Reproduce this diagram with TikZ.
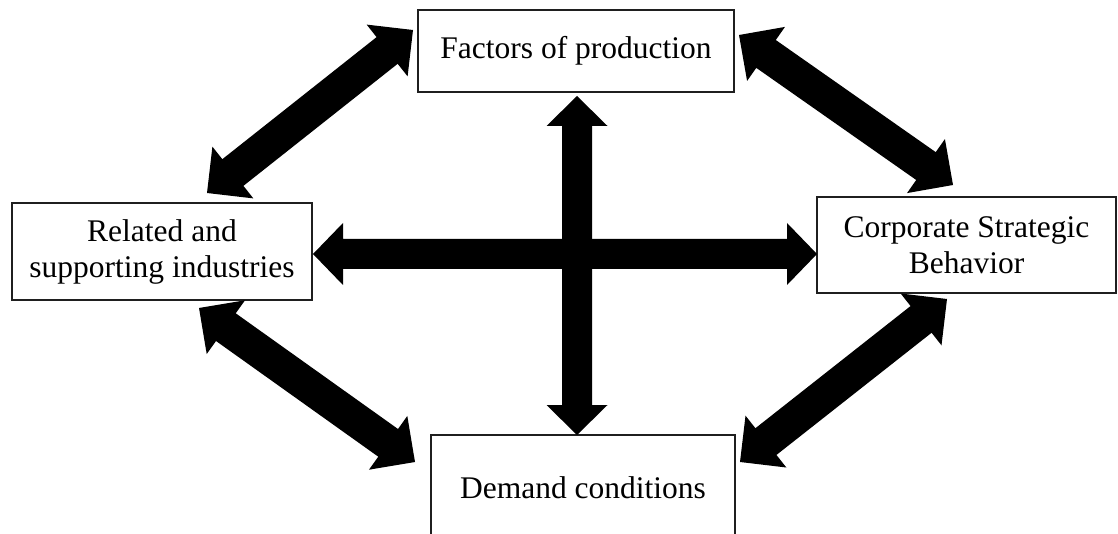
\documentclass[tikz,border=0pt]{standalone}
\usepackage{fontspec}
\setmainfont{Liberation Serif}
\usetikzlibrary{calc}
\tikzset{
  box/.style={draw=black!88, line width=1.8pt, fill=white, align=center,
    font=\fontsize{31.5}{36}\selectfont, inner sep=0pt},
  arrowfill/.style={fill=black},
}
% #1,#2: tip coordinates; #3 head length; #4 half head width; #5 half shaft width
\newcommand\dblarrow[5]{%
  \coordinate (ha) at ($(#1)!#3!(#2)$);
  \coordinate (hb) at ($(#2)!#3!(#1)$);
  \fill[arrowfill] (#1) -- ($(ha)!#4!90:(#2)$) -- ($(ha)!#5!90:(#2)$)
    -- ($(hb)!#5!-90:(#1)$) -- ($(hb)!#4!-90:(#1)$) -- (#2)
    -- ($(hb)!#4!90:(#1)$) -- ($(hb)!#5!90:(#1)$)
    -- ($(ha)!#5!-90:(#2)$) -- ($(ha)!#4!-90:(#2)$) -- cycle;
}
\begin{document}
\begin{tikzpicture}[x=1pt,y=-1pt]
\fill[white] (0,0) rectangle (1118,534);
\useasboundingbox (0,0) rectangle (1118,534);
\clip (0,0) rectangle (1118,534);

\node[box, minimum width=316pt, minimum height=82pt] (fac) at (576,51) {Factors of production};
\node[box, minimum width=300pt, minimum height=97pt] (rel) at (162,251.5) {Related and\\supporting industries};
\node[box, minimum width=299pt, minimum height=96pt] (cor) at (966.5,245) {Corporate Strategic\\Behavior};
\node[box, minimum width=304pt, minimum height=106pt] (dem) at (583,488) {Demand conditions};

% arrow tips next to the boxes
\coordinate (facSW) at (413,30);
\coordinate (relN) at (207,193);
\coordinate (facSE) at (739,35);
\coordinate (corN) at (953,185);
\coordinate (relS) at (199,308);
\coordinate (demW) at (415,462);
\coordinate (corS) at (947,299);
\coordinate (demE) at (740,462);
\coordinate (facB) at (577,96);
\coordinate (demT) at (577,435);
\coordinate (relE) at (313,254);
\coordinate (corW) at (817,254);

\dblarrow{facSW}{relN}{33pt}{33pt}{17pt}
\dblarrow{facSE}{corN}{33pt}{33pt}{17pt}
\dblarrow{relS}{demW}{33pt}{33pt}{17pt}
\dblarrow{corS}{demE}{33pt}{33pt}{17pt}
\dblarrow{facB}{demT}{30pt}{30.5pt}{15pt}
\dblarrow{relE}{corW}{30pt}{31pt}{15pt}
\end{tikzpicture}
\end{document}
